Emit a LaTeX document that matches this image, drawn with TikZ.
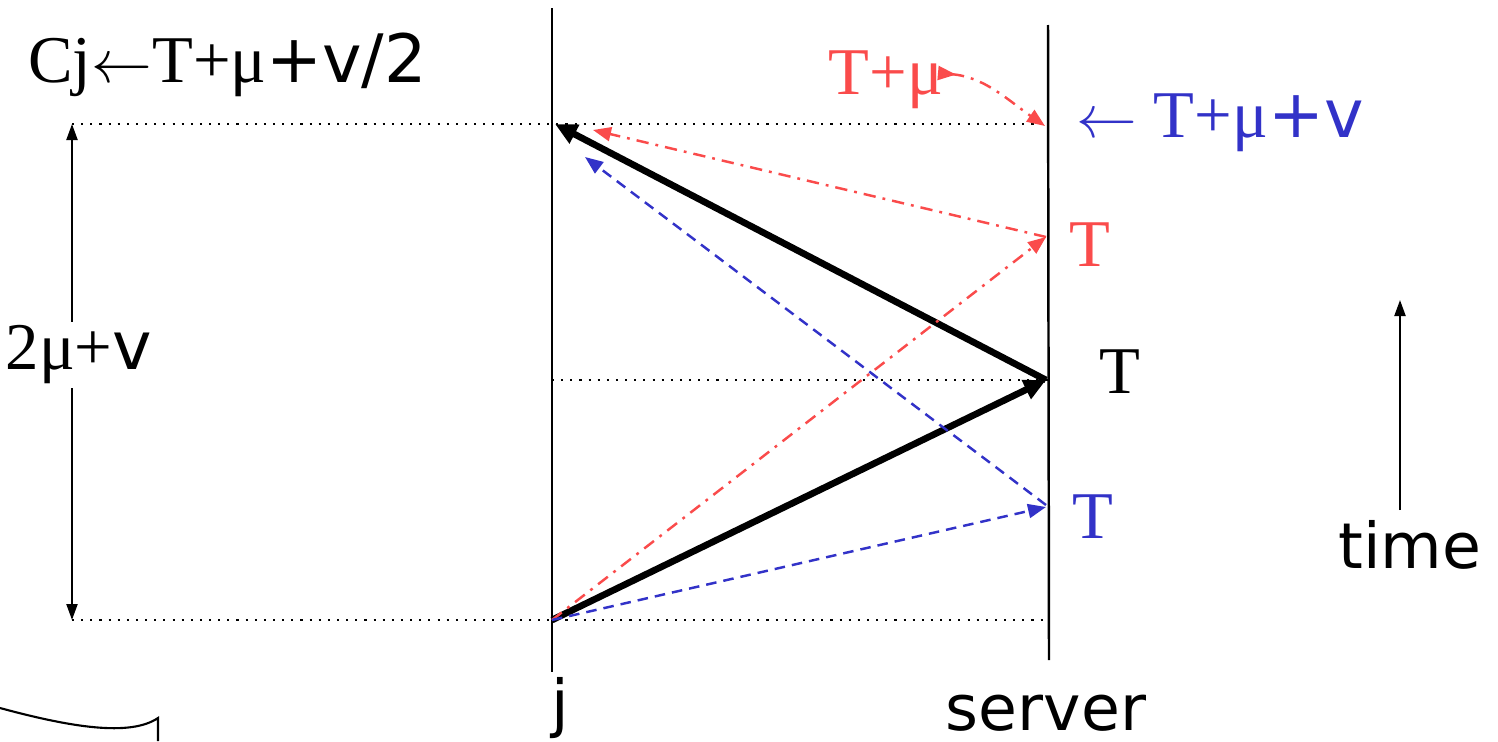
\documentclass[tikz,border=0pt]{standalone}
\usepackage{fontspec}
\setmainfont{Liberation Serif}
\setsansfont{DejaVu Sans}
\usetikzlibrary{arrows.meta}
\definecolor{msgred}{RGB}{250,75,75}
\definecolor{msgblue}{RGB}{50,50,200}
\begin{document}
\begin{tikzpicture}
         [proc line/.style={line width=0.7pt},
          tick line/.style={dotted, line width=0.6pt},
          big msg/.style={line width=1.9pt,-{Triangle[length=2.2mm,width=2mm]}},
          red msg/.style={msgred,line width=0.7pt,dash pattern=on 3.5pt off 2pt on 0.8pt off 2pt,
                          -{Triangle[length=1.8mm,width=1.4mm]}},
          blue msg/.style={msgblue,line width=0.7pt,dash pattern=on 3pt off 2pt,
                          -{Triangle[length=1.8mm,width=1.4mm]}},
          serif label/.style={font=\fontsize{19}{22}\selectfont},
          sans label/.style={font=\sffamily\fontsize{18}{22}\selectfont}]
         \useasboundingbox (0,0) rectangle (14.98,7.41);

         % the two processes
         \coordinate (jtop) at (5.52,7.33);
         \coordinate (jbot) at (5.52,0.69);
         \coordinate (stop) at (10.48,7.16);
         \coordinate (sbot) at (10.49,0.81);
         \draw[proc line] (jtop) -- (jbot);
         \draw[proc line] (stop) -- (sbot);

         % points on the time lines
         \coordinate (send) at (5.52,1.21);
         \coordinate (jback) at (5.55,6.17);
         \coordinate (rback) at (5.93,6.11);
         \coordinate (bback) at (5.85,5.84);
         \coordinate (sT) at (10.46,3.61);
         \coordinate (rT) at (10.46,5.04);
         \coordinate (bT) at (10.46,2.36);
         \coordinate (bin) at (10.46,2.34);

         \coordinate (spantop) at (0.72,6.17);
         \coordinate (spanbot) at (0.72,1.21);
         \coordinate (stopdot) at (10.48,6.17);
         \coordinate (smid) at (10.48,3.61);
         \coordinate (jmid) at (5.52,3.61);
         \coordinate (sbotdot) at (10.48,1.21);

         \draw[tick line] (spantop) -- (stopdot);
         \draw[tick line] (jmid) -- (smid);
         \draw[tick line] (spanbot) -- (sbotdot);

         % round trip span
         \draw[line width=0.6pt,{Triangle[length=1.6mm,width=1.1mm]}-{Triangle[length=1.6mm,width=1.1mm]}] (spantop) -- (spanbot);
         \node[serif label, fill=white, inner sep=1pt] (span) at (0.79,3.86) {2μ+{\sffamily v}};

         % messages
         \draw[big msg] (send) -- (sT);
         \draw[big msg] (sT) -- (jback);
         \draw[red msg] (send) -- (rT);
         \draw[red msg] (rT) -- (rback);
         \draw[blue msg] (bT) -- (bback);
         \draw[blue msg] (send) -- (bin);

         % labels
         \node[serif label, anchor=west] (rule) at (0.16,6.76) {Cj$\leftarrow$T+μ{\sffamily +v/2}};
         \node[serif label, msgred] (redmu) at (8.86,6.61) {T+μ};
         \node[serif label, msgblue, anchor=west] (bluemu) at (10.64,6.18) {$\leftarrow$ T+μ{\sffamily +v}};
         \node[serif label, msgred] (redT) at (10.90,4.96) {T};
         \node[serif label] (blackT) at (11.20,3.69) {T};
         \node[serif label, msgblue] (blueT) at (10.93,2.24) {T};

         \coordinate (rstart) at (9.38,6.68);
         \coordinate (rend) at (10.45,6.15);
         \draw[msgred,line width=0.7pt,dash pattern=on 3.5pt off 2pt on 0.8pt off 2pt,
               {Triangle[length=1.8mm,width=1.4mm,reversed]}-{Triangle[length=1.8mm,width=1.4mm]}]
               (rstart) to[out=-5,in=145] (rend);

         % time axis
         \coordinate (tbot) at (14.00,2.31);
         \coordinate (ttop) at (14.00,4.41);
         \draw[line width=0.6pt,-{Triangle[length=1.6mm,width=1.1mm]}] (tbot) -- (ttop);
         \node[sans label] (time) at (14.10,1.96) {time};

         \node[sans label] (jlab) at (5.60,0.33) {j};
         \node[sans label] (slab) at (10.46,0.28) {server};

         % corner of a shape cut off at the page edge
         \draw[line width=0.6pt] (0,0.33) .. controls (0.7,0.14) and (1.3,0.04) .. (1.58,0.23) -- (1.58,0);
      \end{tikzpicture}
\end{document}
